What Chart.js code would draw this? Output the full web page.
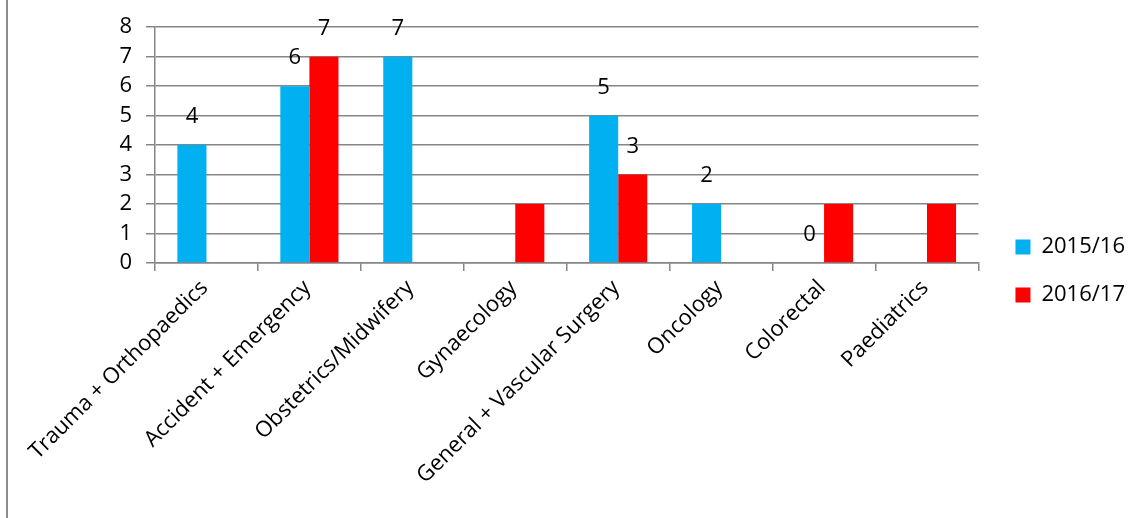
<!DOCTYPE html>
<html><head><meta charset="utf-8">
<script src="https://cdn.jsdelivr.net/npm/chart.js@4/dist/chart.umd.min.js"></script>
<style>html,body{margin:0;padding:0;background:#fff}#wrap{width:1135px;height:518px;position:relative}</style>
</head><body><div id="wrap"><canvas id="c" width="1135" height="518"></canvas></div>
<script>
const categories = ["Trauma + Orthopaedics","Accident + Emergency","Obstetrics/Midwifery","Gynaecology","General + Vascular Surgery","Oncology","Colorectal","Paediatrics"];
const series2015 = [4, 6, 7, null, 5, 2, 0, null];
const series2016 = [null, 7, null, 2, 3, null, 2, 2];
const labels2015 = ["4","6","7","","5","2","0",""];
const labels2016 = ["","7","","","3","","",""];
const yTicks = [0,1,2,3,4,5,6,7,8];

const FONT = "'Open Sans', Lato, sans-serif";
const GRID = "#868686";

const valueLabels = {
  id: 'valueLabels',
  afterDatasetsDraw(chart) {
    const ctx = chart.ctx;
    ctx.save();
    ctx.font = "22px " + FONT;
    ctx.fillStyle = "#000";
    ctx.textAlign = "center";
    ctx.textBaseline = "middle";
    chart.data.datasets.forEach((ds, di) => {
      const meta = chart.getDatasetMeta(di);
      meta.data.forEach((bar, i) => {
        const t = ds.pointLabels[i];
        if (!t) return;
        ctx.fillText(t, bar.x, bar.y - 28);
      });
    });
    ctx.restore();
  }
};
const frame = {
  id: 'frame',
  afterDraw(chart) {
    const ctx = chart.ctx;
    ctx.save();
    ctx.strokeStyle = "#8c8c8c";
    ctx.lineWidth = 2;
    ctx.beginPath();
    ctx.moveTo(7, 0);
    ctx.lineTo(7, 518);
    ctx.stroke();
    ctx.restore();
  }
};

new Chart(document.getElementById('c'), {
  type: 'bar',
  data: {
    labels: categories,
    datasets: [
      {label: "2015/16", data: series2015, pointLabels: labels2015, backgroundColor: "#00B0F0", categoryPercentage: 0.565, barPercentage: 1.0},
      {label: "2016/17", data: series2016, pointLabels: labels2016, backgroundColor: "#FF0000", categoryPercentage: 0.565, barPercentage: 1.0}
    ]
  },
  options: {
    responsive: false,
    animation: false,
    layout: {padding: {left: 20, right: 0, top: 24, bottom: 0}},
    plugins: {
      legend: {
        position: 'right',
        labels: {font: {family: FONT, size: 22}, color: "#000", boxWidth: 15, boxHeight: 15, padding: 26, useBorderRadius: false}
      },
      tooltip: {enabled: false}
    },
    scales: {
      x: {
        grid: {display: true, drawOnChartArea: false, offset: true, color: GRID, tickLength: 8, lineWidth: 1.5},
        border: {display: true, color: GRID, width: 1.5},
        ticks: {font: {family: FONT, size: 22}, color: "#000", maxRotation: 45, minRotation: 45, autoSkip: false, padding: 4, labelOffset: -2},
        afterFit(s) { s.height = 518 - 263; }
      },
      y: {
        min: 0, max: 8,
        afterBuildTicks(s) { s.ticks = yTicks.map(v => ({value: v})); },
        grid: {color: GRID, tickLength: 9, lineWidth: 1.5},
        border: {display: true, color: GRID, width: 1.5},
        ticks: {font: {family: FONT, size: 22}, color: "#000", padding: 14},
        afterFit(s) { s.width = 155 - 20; }
      },
      gap: {
        position: 'right', display: true, min: 0, max: 8,
        grid: {display: false}, border: {display: false}, ticks: {display: false},
        afterFit(s) { s.width = 11; }
      }
    }
  },
  plugins: [valueLabels, frame]
});
</script></body></html>
